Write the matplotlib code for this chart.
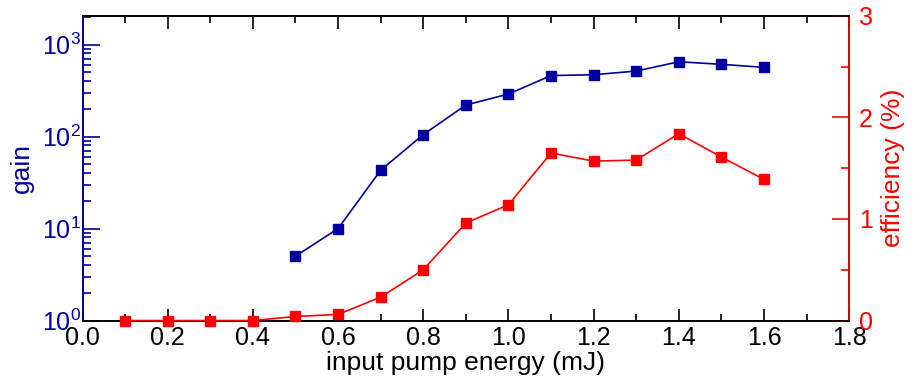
import matplotlib.pyplot as plt
from matplotlib.ticker import LogLocator, MultipleLocator, NullFormatter

plt.rcParams['font.family'] = ['Liberation Sans', 'DejaVu Sans']
plt.rcParams['mathtext.fontset'] = 'custom'
plt.rcParams['mathtext.rm'] = 'Liberation Sans'
plt.rcParams['mathtext.it'] = 'Liberation Sans:italic'
plt.rcParams['mathtext.bf'] = 'Liberation Sans:bold'

energy_gain = [0.5, 0.6, 0.7, 0.8, 0.9, 1.0, 1.1, 1.2, 1.3, 1.4, 1.5, 1.6]
gain = [5, 10, 43, 105, 220, 290, 460, 470, 515, 650, 610, 565]

energy_eff = [0.1, 0.2, 0.3, 0.4, 0.5, 0.6, 0.7, 0.8, 0.9, 1.0, 1.1, 1.2, 1.3, 1.4, 1.5, 1.6]
efficiency = [0.0, 0.0, 0.0, 0.0, 0.04, 0.06, 0.23, 0.5, 0.96, 1.14, 1.65, 1.57, 1.58, 1.84, 1.61, 1.39]

blue = '#0000a0'
red = '#ff0000'
fs = 18
lfs = 19

fig, ax = plt.subplots(figsize=(9.17, 3.78), dpi=100)
fig.subplots_adjust(left=0.09, right=0.926, top=0.958, bottom=0.152)

ax.plot(energy_gain, gain, color=blue, marker='s', markersize=7, lw=1.2)
ax.set_yscale('log')
ax.set_ylim(1, 2050)
ax.set_xlim(0, 1.8)
ax.xaxis.set_major_locator(MultipleLocator(0.2))
ax.xaxis.set_minor_locator(MultipleLocator(0.1))
ax.xaxis.set_major_formatter(plt.FuncFormatter(lambda v, p: f'{v:.1f}'))
ax.yaxis.set_major_locator(LogLocator(base=10, numticks=10))
ax.yaxis.set_minor_locator(LogLocator(base=10, subs=range(2, 10), numticks=10))
ax.yaxis.set_minor_formatter(NullFormatter())
ax.set_xlabel('input pump energy (mJ)', fontsize=lfs, labelpad=1)
ax.set_ylabel('gain', fontsize=lfs, color=blue, labelpad=6)
ax.tick_params(axis='x', which='both', direction='in', top=True, labelsize=fs, colors='black', pad=4)
ax.tick_params(axis='x', which='major', length=9, width=1.2)
ax.tick_params(axis='x', which='minor', length=5, width=1.2)
ax.tick_params(axis='y', which='both', direction='in', labelsize=fs, colors=blue, width=1.2, pad=1)
ax.tick_params(axis='y', which='major', length=12)
ax.tick_params(axis='y', which='minor', length=6)
ax.spines['left'].set_color(blue)
for s in ax.spines.values():
    s.set_linewidth(1.2)

ax2 = ax.twinx()
ax2.plot(energy_eff, efficiency, color=red, marker='s', markersize=7, lw=1.2, clip_on=False, zorder=5)
ax2.set_ylim(0, 3)
ax2.yaxis.set_major_locator(MultipleLocator(1))
ax2.yaxis.set_minor_locator(MultipleLocator(0.5))
ax2.set_ylabel('efficiency (%)', fontsize=lfs, color=red, labelpad=6)
ax2.tick_params(axis='y', which='both', direction='in', labelsize=fs, colors=red, width=1.2, pad=7)
ax2.tick_params(axis='y', which='major', length=12)
ax2.tick_params(axis='y', which='minor', length=6)
ax2.spines['right'].set_color(red)
ax2.spines['left'].set_color(blue)
for s in ax2.spines.values():
    s.set_linewidth(1.2)

fig.savefig('out.png')
